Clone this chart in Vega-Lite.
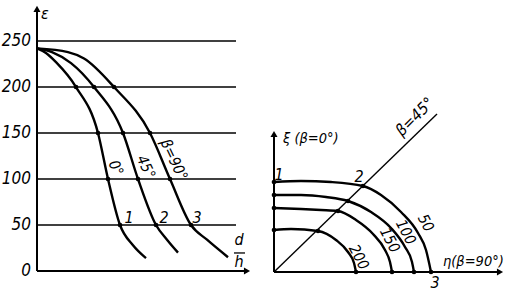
{
  "$schema": "https://vega.github.io/schema/vega-lite/v6.json",
  "autosize": {"type": "pad"},
  "padding": {"left": 1, "top": 0, "right": 0, "bottom": 0},
  "background": "white",
  "spacing": 18,
  "config": {"view": {"stroke": null}},
  "hconcat": [
    {
      "width": 212,
      "height": 271,
      "layer": [
        {
          "data": {"values": [{"y": 50}, {"y": 100}, {"y": 150}, {"y": 200}, {"y": 250}]},
          "mark": {"type": "rule", "color": "black", "strokeWidth": 1.6},
          "encoding": {
            "x": {"datum": 0, "type": "quantitative", "scale": {"domain": [0, 2.12], "nice": false, "zero": false}, "axis": null},
            "x2": {"datum": 1.99},
            "y": {"field": "y", "type": "quantitative", "scale": {"domain": [0, 294.6], "nice": false, "zero": false}, "axis": null}
          }
        },
        {
          "data": {"values": [{"y": 0, "label": "0"}, {"y": 50, "label": "50"}, {"y": 100, "label": "100"}, {"y": 150, "label": "150"}, {"y": 200, "label": "200"}, {"y": 250, "label": "250"}]},
          "mark": {"type": "text", "font": "Liberation Sans Narrow, DejaVu Sans Condensed, Liberation Sans", "fontStyle": "italic", "fontSize": 17, "color": "black", "align": "right", "baseline": "middle", "dx": -6},
          "encoding": {
            "x": {"datum": 0, "type": "quantitative", "axis": null},
            "y": {"field": "y", "type": "quantitative", "axis": null},
            "text": {"field": "label"}
          }
        },
        {
          "data": {"values": [{}]},
          "mark": {"type": "rule", "color": "black", "strokeWidth": 2},
          "encoding": {"x": {"datum": 0, "type": "quantitative", "axis": null}, "y": {"datum": 0, "type": "quantitative", "axis": null}, "y2": {"datum": 283}}
        },
        {
          "data": {"values": [{}]},
          "mark": {"type": "rule", "color": "black", "strokeWidth": 2},
          "encoding": {"y": {"datum": 0, "type": "quantitative", "axis": null}, "x": {"datum": 0, "type": "quantitative", "axis": null}, "x2": {"datum": 2.1}}
        },
        {
          "data": {"values": [{"x": 0, "y": 285, "dir": "up"}]},
          "mark": {"type": "point", "shape": "triangle-up", "size": 50, "filled": true, "color": "black", "opacity": 1},
          "encoding": {"x": {"field": "x", "type": "quantitative", "axis": null}, "y": {"field": "y", "type": "quantitative", "axis": null}}
        },
        {
          "data": {"values": [{"x": 2.1, "y": 0, "dir": "right"}]},
          "mark": {"type": "point", "shape": "triangle-right", "size": 50, "filled": true, "color": "black", "opacity": 1},
          "encoding": {"x": {"field": "x", "type": "quantitative", "axis": null}, "y": {"field": "y", "type": "quantitative", "axis": null}}
        },
        {
          "data": {"values": [
            {"beta": "0°", "x": 0, "y": 242}, {"beta": "0°", "x": 0.09, "y": 237}, {"beta": "0°", "x": 0.19, "y": 227}, {"beta": "0°", "x": 0.39, "y": 200}, {"beta": "0°", "x": 0.61, "y": 150}, {"beta": "0°", "x": 0.71, "y": 100}, {"beta": "0°", "x": 0.83, "y": 50}, {"beta": "0°", "x": 0.96, "y": 28}, {"beta": "0°", "x": 1.09, "y": 14},
            {"beta": "45°", "x": 0, "y": 242}, {"beta": "45°", "x": 0.15, "y": 238}, {"beta": "45°", "x": 0.34, "y": 226}, {"beta": "45°", "x": 0.57, "y": 200}, {"beta": "45°", "x": 0.86, "y": 150}, {"beta": "45°", "x": 1.01, "y": 100}, {"beta": "45°", "x": 1.19, "y": 50}, {"beta": "45°", "x": 1.30, "y": 34}, {"beta": "45°", "x": 1.41, "y": 20},
            {"beta": "90°", "x": 0, "y": 242}, {"beta": "90°", "x": 0.31, "y": 238}, {"beta": "90°", "x": 0.47, "y": 231}, {"beta": "90°", "x": 0.77, "y": 200}, {"beta": "90°", "x": 1.13, "y": 150}, {"beta": "90°", "x": 1.33, "y": 100}, {"beta": "90°", "x": 1.54, "y": 50}, {"beta": "90°", "x": 1.70, "y": 34}, {"beta": "90°", "x": 1.91, "y": 15}
          ]},
          "mark": {"type": "line", "color": "black", "strokeWidth": 2.4, "interpolate": "monotone"},
          "encoding": {
            "x": {"field": "x", "type": "quantitative", "axis": null},
            "y": {"field": "y", "type": "quantitative", "axis": null},
            "detail": {"field": "beta"}
          }
        },
        {
          "data": {"values": [
            {"x": 0.39, "y": 200}, {"x": 0.61, "y": 150}, {"x": 0.71, "y": 100}, {"x": 0.83, "y": 50},
            {"x": 0.57, "y": 200}, {"x": 0.86, "y": 150}, {"x": 1.01, "y": 100}, {"x": 1.19, "y": 50},
            {"x": 0.77, "y": 200}, {"x": 1.13, "y": 150}, {"x": 1.33, "y": 100}, {"x": 1.54, "y": 50}
          ]},
          "mark": {"type": "point", "shape": "circle", "filled": true, "size": 22, "color": "black", "opacity": 1},
          "encoding": {
            "x": {"field": "x", "type": "quantitative", "axis": null},
            "y": {"field": "y", "type": "quantitative", "axis": null}
          }
        },
        {
          "data": {"values": [
            {"x": 0.92, "y": 58, "label": "1"}, {"x": 1.27, "y": 58, "label": "2"}, {"x": 1.60, "y": 58, "label": "3"},
            {"x": 0.08, "y": 279, "label": "ε"}, {"x": 2.02, "y": 34, "label": "d"}, {"x": 2.02, "y": 10, "label": "h"}
          ]},
          "mark": {"type": "text", "font": "Liberation Sans Narrow, DejaVu Sans Condensed, Liberation Sans", "fontStyle": "italic", "fontSize": 16, "color": "black", "align": "center", "baseline": "middle"},
          "encoding": {
            "x": {"field": "x", "type": "quantitative", "axis": null},
            "y": {"field": "y", "type": "quantitative", "axis": null},
            "text": {"field": "label"}
          }
        },
        {
          "data": {"values": [{}]},
          "mark": {"type": "rule", "color": "black", "strokeWidth": 1.3},
          "encoding": {"y": {"datum": 19.6, "type": "quantitative", "axis": null}, "x": {"datum": 1.97, "type": "quantitative", "axis": null}, "x2": {"datum": 2.08}}
        },
        {
          "data": {"values": [
            {"x": 0.79, "y": 112, "label": "0°"}, {"x": 1.09, "y": 113, "label": "45°"}, {"x": 1.37, "y": 121, "label": "β=90°"}
          ]},
          "mark": {"type": "text", "font": "Liberation Sans Narrow, DejaVu Sans Condensed, Liberation Sans", "fontStyle": "italic", "fontSize": 15, "color": "black", "align": "center", "baseline": "middle", "angle": 65},
          "encoding": {
            "x": {"field": "x", "type": "quantitative", "axis": null},
            "y": {"field": "y", "type": "quantitative", "axis": null},
            "text": {"field": "label"}
          }
        }
      ]
    },
    {
      "width": 230,
      "height": 272,
      "layer": [
        {
          "data": {"values": [{}]},
          "mark": {"type": "rule", "color": "black", "strokeWidth": 2},
          "encoding": {
            "x": {"datum": 0, "type": "quantitative", "scale": {"domain": [0, 2.30], "nice": false, "zero": false}, "axis": null},
            "y": {"datum": 0, "type": "quantitative", "scale": {"domain": [0, 2.72], "nice": false, "zero": false}, "axis": null},
            "y2": {"datum": 1.36}
          }
        },
        {
          "data": {"values": [{}]},
          "mark": {"type": "rule", "color": "black", "strokeWidth": 2},
          "encoding": {"y": {"datum": 0, "type": "quantitative", "axis": null}, "x": {"datum": 0, "type": "quantitative", "axis": null}, "x2": {"datum": 2.24}}
        },
        {
          "data": {"values": [{"x": 0, "y": 1.38, "dir": "up"}]},
          "mark": {"type": "point", "shape": "triangle-up", "size": 50, "filled": true, "color": "black", "opacity": 1},
          "encoding": {"x": {"field": "x", "type": "quantitative", "axis": null}, "y": {"field": "y", "type": "quantitative", "axis": null}}
        },
        {
          "data": {"values": [{"x": 2.26, "y": 0, "dir": "right"}]},
          "mark": {"type": "point", "shape": "triangle-right", "size": 50, "filled": true, "color": "black", "opacity": 1},
          "encoding": {"x": {"field": "x", "type": "quantitative", "axis": null}, "y": {"field": "y", "type": "quantitative", "axis": null}}
        },
        {
          "data": {"values": [{"x": 0, "y": 0}, {"x": 1.63, "y": 1.58}]},
          "mark": {"type": "line", "color": "black", "strokeWidth": 1.4},
          "encoding": {
            "x": {"field": "x", "type": "quantitative", "axis": null},
            "y": {"field": "y", "type": "quantitative", "axis": null}
          }
        },
        {
          "data": {"values": [
            {"eps": 50, "x": 0, "y": 0.90}, {"eps": 50, "x": 0.27, "y": 0.91}, {"eps": 50, "x": 0.57, "y": 0.90}, {"eps": 50, "x": 0.89, "y": 0.86}, {"eps": 50, "x": 1.07, "y": 0.77}, {"eps": 50, "x": 1.27, "y": 0.60}, {"eps": 50, "x": 1.44, "y": 0.39}, {"eps": 50, "x": 1.52, "y": 0.22}, {"eps": 50, "x": 1.57, "y": 0},
            {"eps": 100, "x": 0, "y": 0.77}, {"eps": 100, "x": 0.27, "y": 0.77}, {"eps": 100, "x": 0.52, "y": 0.75}, {"eps": 100, "x": 0.74, "y": 0.71}, {"eps": 100, "x": 0.97, "y": 0.60}, {"eps": 100, "x": 1.17, "y": 0.44}, {"eps": 100, "x": 1.31, "y": 0.25}, {"eps": 100, "x": 1.38, "y": 0.10}, {"eps": 100, "x": 1.40, "y": 0},
            {"eps": 150, "x": 0, "y": 0.64}, {"eps": 150, "x": 0.27, "y": 0.63}, {"eps": 150, "x": 0.47, "y": 0.62}, {"eps": 150, "x": 0.64, "y": 0.61}, {"eps": 150, "x": 0.82, "y": 0.52}, {"eps": 150, "x": 0.99, "y": 0.38}, {"eps": 150, "x": 1.11, "y": 0.22}, {"eps": 150, "x": 1.16, "y": 0.10}, {"eps": 150, "x": 1.18, "y": 0},
            {"eps": 200, "x": 0, "y": 0.42}, {"eps": 200, "x": 0.17, "y": 0.43}, {"eps": 200, "x": 0.44, "y": 0.41}, {"eps": 200, "x": 0.62, "y": 0.32}, {"eps": 200, "x": 0.74, "y": 0.20}, {"eps": 200, "x": 0.80, "y": 0.09}, {"eps": 200, "x": 0.82, "y": 0}
          ]},
          "mark": {"type": "line", "color": "black", "strokeWidth": 2.4, "interpolate": "monotone"},
          "encoding": {
            "x": {"field": "x", "type": "quantitative", "axis": null},
            "y": {"field": "y", "type": "quantitative", "axis": null},
            "detail": {"field": "eps"}
          }
        },
        {
          "data": {"values": [
            {"x": 0, "y": 0.90}, {"x": 0, "y": 0.77}, {"x": 0, "y": 0.64}, {"x": 0, "y": 0.42},
            {"x": 0.89, "y": 0.86}, {"x": 0.74, "y": 0.71}, {"x": 0.64, "y": 0.61}, {"x": 0.44, "y": 0.41},
            {"x": 1.57, "y": 0}, {"x": 1.40, "y": 0}, {"x": 1.18, "y": 0}, {"x": 0.82, "y": 0}
          ]},
          "mark": {"type": "point", "shape": "circle", "filled": true, "size": 22, "color": "black", "opacity": 1},
          "encoding": {
            "x": {"field": "x", "type": "quantitative", "axis": null},
            "y": {"field": "y", "type": "quantitative", "axis": null}
          }
        },
        {
          "data": {"values": [
            {"x": 0.05, "y": 0.97, "label": "1"}, {"x": 0.85, "y": 0.95, "label": "2"}, {"x": 1.61, "y": -0.11, "label": "3"}
          ]},
          "mark": {"type": "text", "font": "Liberation Sans Narrow, DejaVu Sans Condensed, Liberation Sans", "fontStyle": "italic", "fontSize": 16, "color": "black", "align": "center", "baseline": "middle"},
          "encoding": {
            "x": {"field": "x", "type": "quantitative", "axis": null},
            "y": {"field": "y", "type": "quantitative", "axis": null},
            "text": {"field": "label"}
          }
        },
        {
          "data": {"values": [
            {"x": 0.09, "y": 1.33, "label": "ξ (β=0°)"}, {"x": 1.69, "y": 0.10, "label": "η(β=90°)"}
          ]},
          "mark": {"type": "text", "font": "Liberation Sans Narrow, DejaVu Sans Condensed, Liberation Sans", "fontStyle": "italic", "fontSize": 14.5, "color": "black", "align": "left", "baseline": "middle"},
          "encoding": {
            "x": {"field": "x", "type": "quantitative", "axis": null},
            "y": {"field": "y", "type": "quantitative", "axis": null},
            "text": {"field": "label"}
          }
        },
        {
          "data": {"values": [
            {"x": 1.52, "y": 0.49, "label": "50"}, {"x": 1.32, "y": 0.40, "label": "100"}, {"x": 1.16, "y": 0.32, "label": "150"}, {"x": 0.85, "y": 0.15, "label": "200"}
          ]},
          "mark": {"type": "text", "font": "Liberation Sans Narrow, DejaVu Sans Condensed, Liberation Sans", "fontStyle": "italic", "fontSize": 15, "color": "black", "align": "center", "baseline": "middle", "angle": 62},
          "encoding": {
            "x": {"field": "x", "type": "quantitative", "axis": null},
            "y": {"field": "y", "type": "quantitative", "axis": null},
            "text": {"field": "label"}
          }
        },
        {
          "data": {"values": [{"x": 1.41, "y": 1.55, "label": "β=45°"}]},
          "mark": {"type": "text", "font": "Liberation Sans Narrow, DejaVu Sans Condensed, Liberation Sans", "fontStyle": "italic", "fontSize": 16, "color": "black", "align": "center", "baseline": "middle", "angle": -45},
          "encoding": {
            "x": {"field": "x", "type": "quantitative", "axis": null},
            "y": {"field": "y", "type": "quantitative", "axis": null},
            "text": {"field": "label"}
          }
        }
      ]
    }
  ]
}
